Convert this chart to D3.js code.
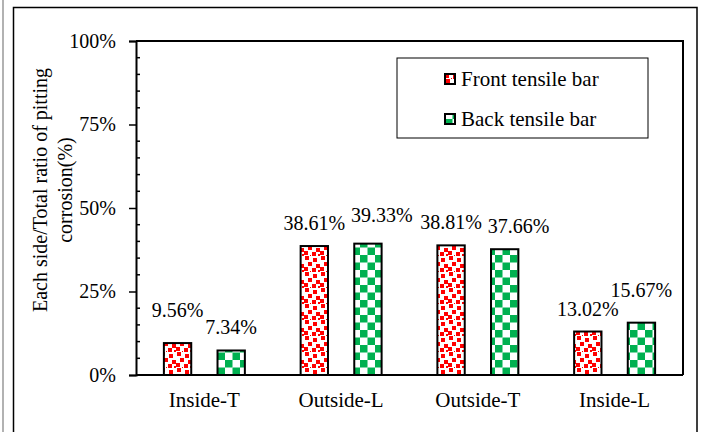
<!DOCTYPE html>
<html lang="en">
<head>
  <meta charset="UTF-8">
  <title>Pitting corrosion ratio</title>
  <script src="https://d3js.org/d3.v7.min.js"></script>
  <style>
    body { margin: 0; background: #fff; }
    svg text { font-family: "Liberation Serif", "DejaVu Serif", serif; fill: #000; }
  </style>
</head>
<body>
  <script>
    "use strict";
    // data
    var categories = ['Inside-T', 'Outside-L', 'Outside-T', 'Inside-L'];
    var seriesNames = ['Front tensile bar', 'Back tensile bar'];
    var frontValues = [9.56, 38.61, 38.81, 13.02];
    var backValues = [7.34, 39.33, 37.66, 15.67];
    var yTicks = [0, 25, 50, 75, 100];
    // hand nudges of a few value labels (dx, extra lift), as in the original
    var frontShift = [[0, 10], [0, 0], [0, 0], [0, 0]];
    var backShift = [[0, 0], [14, 6], [14, 0], [0, 10]];

    var FONT = '"Liberation Serif", "DejaVu Serif", serif';
    var W = 704, H = 432;
    var m = { left: 136, right: 21, top: 41, bottom: 57 };

    var svg = d3.select('body').append('svg')
      .attr('width', W)
      .attr('height', H)
      .attr('font-family', FONT);

    var defs = svg.append('defs');

    // red confetti
    var conf = defs.append('pattern')
      .attr('id', 'confetti')
      .attr('patternUnits', 'userSpaceOnUse')
      .attr('width', 16).attr('height', 16);
    conf.append('rect').attr('width', 16).attr('height', 16).attr('fill', '#fff');
    [[1, 0, 4], [9, 2, 4], [4, 6, 4], [12, 8, 4], [0, 11, 4], [8, 12, 4], [14, 14, 3], [6, 15, 1]]
      .forEach(function (d) {
        conf.append('rect').attr('x', d[0]).attr('y', d[1])
          .attr('width', d[2]).attr('height', d[2]).attr('fill', '#ff0000');
      });

    // green checkerboard
    var chk = defs.append('pattern')
      .attr('id', 'checker')
      .attr('patternUnits', 'userSpaceOnUse')
      .attr('width', 15).attr('height', 15);
    chk.append('rect').attr('width', 15).attr('height', 15).attr('fill', '#fff');
    chk.append('rect').attr('width', 7.5).attr('height', 7.5).attr('fill', '#00b050');
    chk.append('rect').attr('x', 7.5).attr('y', 7.5).attr('width', 7.5).attr('height', 7.5).attr('fill', '#00b050');

    var fills = ['url(#confetti)', 'url(#checker)'];

    // frame
    svg.append('line')
      .attr('x1', 3).attr('x2', 3).attr('y1', 0).attr('y2', H)
      .attr('stroke', '#999').attr('stroke-width', 1.5);
    svg.append('rect')
      .attr('x', 13.5).attr('y', 7.5)
      .attr('width', 683.5).attr('height', H + 10)
      .attr('fill', 'none').attr('stroke', '#000').attr('stroke-width', 1.5);

    var x0 = d3.scaleBand()
      .domain(categories)
      .range([m.left, W - m.right]);
    var x1 = d3.scaleBand()
      .domain(seriesNames)
      .range([0, x0.bandwidth()])
      .paddingInner(0.49)
      .paddingOuter(0.52);
    var y = d3.scaleLinear()
      .domain([0, 100])
      .range([H - m.bottom, m.top]);

    // plot border (top, right)
    svg.append('path')
      .attr('d', 'M' + m.left + ',' + y(100) + 'H' + (W - m.right) + 'V' + y(0))
      .attr('fill', 'none').attr('stroke', '#000').attr('stroke-width', 2);

    // minor ticks inside
    svg.append('g')
      .selectAll('line')
      .data(d3.range(5, 100, 5).filter(function (v) { return v % 25 !== 0; }))
      .enter().append('line')
      .attr('x1', m.left).attr('x2', m.left + 4)
      .attr('y1', function (d) { return y(d); })
      .attr('y2', function (d) { return y(d); })
      .attr('stroke', '#000').attr('stroke-width', 1.5);

    // y axis
    var yAxis = svg.append('g')
      .attr('transform', 'translate(' + m.left + ',0)')
      .call(d3.axisLeft(y)
        .tickValues(yTicks)
        .tickSize(7)
        .tickPadding(13)
        .tickFormat(function (d) { return d + '%'; }));
    yAxis.attr('font-family', FONT).attr('font-size', 20);
    yAxis.select('.domain').attr('stroke-width', 2);
    yAxis.selectAll('.tick line').attr('stroke-width', 1.5);

    // bars
    var rows = categories.map(function (c, i) {
      return [
        { cat: c, s: seriesNames[0], v: frontValues[i], sh: frontShift[i], f: fills[0] },
        { cat: c, s: seriesNames[1], v: backValues[i], sh: backShift[i], f: fills[1] }
      ];
    });
    var flat = d3.merge(rows);

    svg.append('g')
      .selectAll('rect')
      .data(flat)
      .enter().append('rect')
      .attr('x', function (d) { return x0(d.cat) + x1(d.s); })
      .attr('y', function (d) { return y(d.v); })
      .attr('width', x1.bandwidth())
      .attr('height', function (d) { return y(0) - y(d.v); })
      .attr('fill', function (d) { return d.f; })
      .attr('stroke', '#000')
      .attr('stroke-width', 2);

    // x axis line
    svg.append('line')
      .attr('x1', m.left).attr('x2', W - m.right)
      .attr('y1', y(0)).attr('y2', y(0))
      .attr('stroke', '#000').attr('stroke-width', 2);

    // category labels
    svg.append('g')
      .selectAll('text')
      .data(categories)
      .enter().append('text')
      .attr('x', function (d) { return x0(d) + x0.bandwidth() / 2; })
      .attr('y', 407)
      .attr('text-anchor', 'middle')
      .attr('font-size', 21)
      .text(function (d) { return d; });

    // value labels
    svg.append('g')
      .selectAll('text')
      .data(flat)
      .enter().append('text')
      .attr('x', function (d) { return x0(d.cat) + x1(d.s) + x1.bandwidth() / 2 + d.sh[0]; })
      .attr('y', function (d) { return y(d.v) - 16 - d.sh[1]; })
      .attr('text-anchor', 'middle')
      .attr('font-size', 20)
      .text(function (d) { return d.v.toFixed(2) + '%'; });

    // y title
    var yt = svg.append('text')
      .attr('transform', 'translate(47,190) rotate(-90)')
      .attr('text-anchor', 'middle')
      .attr('font-size', 20);
    yt.append('tspan').attr('x', 0).attr('y', 0).text('Each side/Total ratio of pitting');
    yt.append('tspan').attr('x', 0).attr('y', 25).text('corrosion(%)');

    // legend
    var lg = svg.append('g').attr('transform', 'translate(397,58)');
    lg.append('rect')
      .attr('width', 251).attr('height', 80)
      .attr('fill', '#fff').attr('stroke', '#000').attr('stroke-width', 1);
    var item = lg.selectAll('g.item')
      .data(seriesNames)
      .enter().append('g')
      .attr('class', 'item')
      .attr('transform', function (d, i) { return 'translate(48,' + (21 + i * 40) + ')'; });
    item.append('rect')
      .attr('x', 0).attr('y', -5)
      .attr('width', 10).attr('height', 10)
      .attr('fill', function (d, i) { return fills[i]; })
      .attr('stroke', '#000').attr('stroke-width', 2);
    item.append('text')
      .attr('x', 16).attr('y', 7)
      .attr('font-size', 21)
      .text(function (d) { return d; });
  </script>
</body>
</html>
